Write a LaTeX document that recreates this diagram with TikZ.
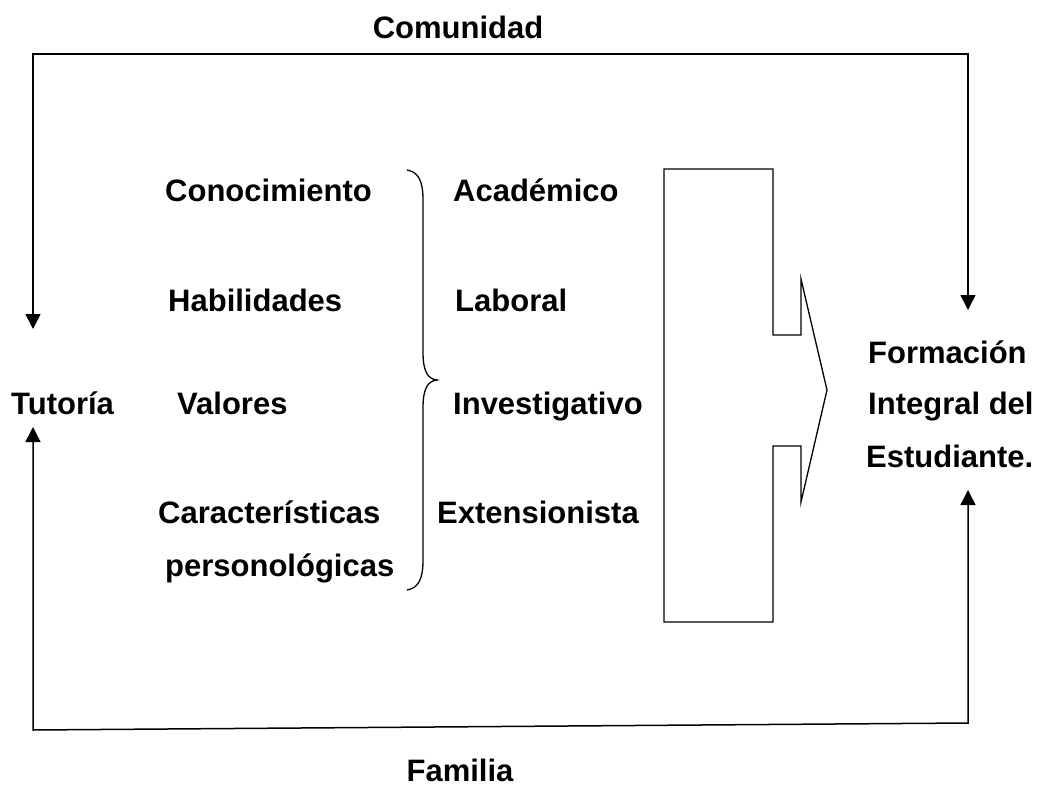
\documentclass[tikz,border=0pt]{standalone}
\usepackage{fontspec}
\setmainfont{Liberation Sans}
\usetikzlibrary{arrows.meta}
\tikzset{
  lab/.style={inner sep=0pt, font=\fontsize{31}{37}\selectfont\bfseries, anchor=base west},
  labc/.style={lab, anchor=base},
  conn/.style={line width=1.5pt},
  arr2/.style={conn, {Triangle[width=15pt,length=15pt]}-{Triangle[width=15pt,length=15pt]}},
  outline/.style={line width=1.3pt}
}
\begin{document}
\begin{tikzpicture}[x=1pt,y=-1pt]
\useasboundingbox (0,0) rectangle (1037,790);
% labels
\node[labc] (comunidad) at (458,38) {Comunidad};
\node[labc] (familia) at (460,781) {Familia};
\node[lab] (conoc) at (165,201) {Conocimiento};
\node[lab] (acad) at (453,201) {Académico};
\node[lab] (habil) at (168,311) {Habilidades};
\node[lab] (labor) at (455,311) {Laboral};
\node[lab] (tutoria) at (11,414) {Tutoría};
\node[lab] (valores) at (177,414) {Valores};
\node[lab] (invest) at (453,414) {Investigativo};
\node[lab] (caract) at (158,523) {Características};
\node[lab] (extens) at (437,523) {Extensionista};
\node[lab] (person) at (165,576) {personológicas};
\node[lab] (formacion) at (868,363) {Formación};
\node[lab] (integral) at (868,414) {Integral del};
\node[lab] (estud) at (866,467) {Estudiante.};
% connector end points
\coordinate (tTop) at (33,329);
\coordinate (tBot) at (33,427);
\coordinate (fTop) at (968,310);
\coordinate (fBot) at (968,490);
\coordinate (tl) at (33,54);
\coordinate (bl) at (33,730);
\coordinate (br) at (968,723);
\draw[arr2] (tTop) -- (tl) -| (fTop);
\draw[arr2] (tBot) -- (bl) -- (br) -- (fBot);
% brace
\draw[outline] (407,170) .. controls (418,172) and (423,180) .. (423,200)
  -- (423,352) .. controls (423,372) and (428,379) .. (437,380)
  .. controls (428,381) and (423,388) .. (423,408)
  -- (423,560) .. controls (423,580) and (418,588) .. (407,590);
% big arrow
\draw[outline, line join=miter] (664,169) -- (773,169) -- (773,335) -- (801,335) -- (801,279)
  -- (827,390) -- (801,502) -- (801,446) -- (773,446) -- (773,622) -- (664,622) -- cycle;
\end{tikzpicture}
\end{document}
